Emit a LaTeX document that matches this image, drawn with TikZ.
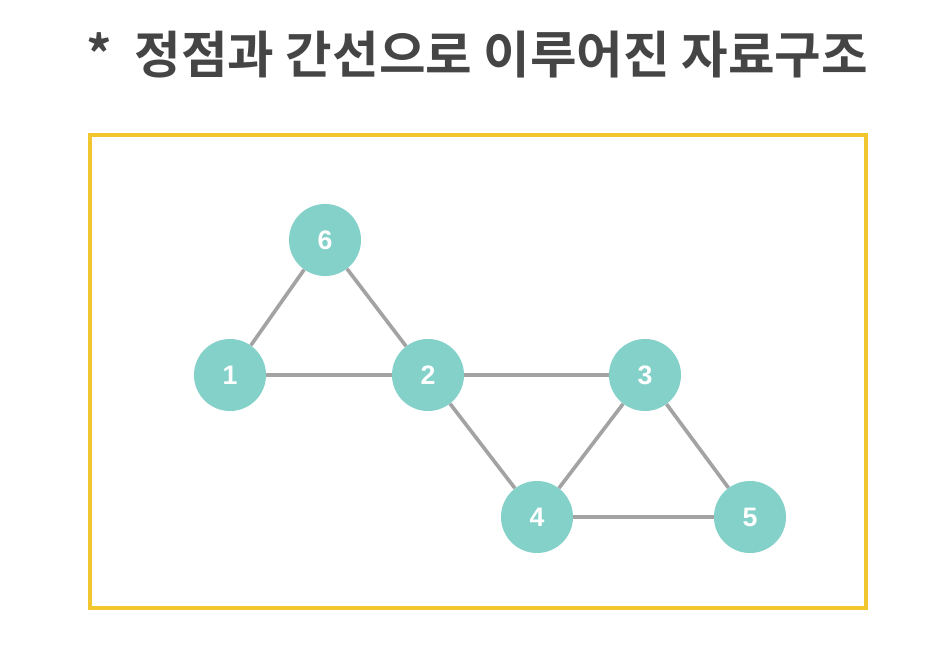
\documentclass[tikz,border=0pt]{standalone}
\usepackage{fontspec}
\setmainfont{Liberation Sans}
\newfontfamily\krfont{Noto Sans CJK KR}[BoldFont = * Bold]
\usepackage{tikz}
\definecolor{vertexfill}{HTML}{83D1C9}
\definecolor{edgegray}{HTML}{A3A3A3}
\definecolor{frameyellow}{HTML}{F2C62E}
\definecolor{titlegray}{HTML}{454545}
\tikzset{vertex/.style = {circle, fill = vertexfill, minimum size = 1.8cm, inner sep = 0,
                          text = white, font = \fontsize{19}{19}\selectfont\bfseries}}
\tikzset{edge/.style = {draw = edgegray, line width = 2.6pt}}

\begin{document}
\begin{tikzpicture}[x = 0.025cm, y = -0.025cm]
    \useasboundingbox (0, 0) rectangle (942, 649);
    \node [text = titlegray, font = \krfont\fontsize{36}{36}\selectfont\bfseries] (title) at (477, 55) {*\ \ 정점과 간선으로 이루어진 자료구조};
    \draw [frameyellow, line width = 2.2pt] (90, 135) rectangle (866, 608);

    \node [vertex] (v6) at (325, 240) {6};
    \node [vertex] (v1) at (230, 375) {1};
    \node [vertex] (v2) at (428, 375) {2};
    \node [vertex] (v3) at (645, 375) {3};
    \node [vertex] (v4) at (537, 517) {4};
    \node [vertex] (v5) at (750, 517) {5};

    \draw [edge] (v1) -- (v6);
    \draw [edge] (v6) -- (v2);
    \draw [edge] (v1) -- (v2);
    \draw [edge] (v2) -- (v3);
    \draw [edge] (v2) -- (v4);
    \draw [edge] (v3) -- (v4);
    \draw [edge] (v3) -- (v5);
    \draw [edge] (v4) -- (v5);
  \end{tikzpicture}
\end{document}
